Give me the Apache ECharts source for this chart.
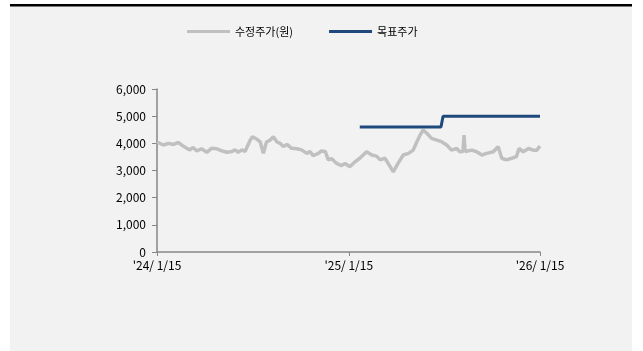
<!DOCTYPE html>
<html>
<head>
<meta charset="utf-8">
<script src="https://cdn.jsdelivr.net/npm/echarts@6/dist/echarts.min.js"></script>
<style>html,body{margin:0;padding:0;background:#fff}#c{width:643px;height:351px}</style>
</head>
<body>
<div id="c"></div>
<script>
// ---- data ----
var priceDates = [
'2024-01-15','2024-01-17','2024-01-27','2024-02-06','2024-02-15','2024-02-25','2024-03-02','2024-03-12','2024-03-18','2024-03-24',
'2024-03-31','2024-04-09','2024-04-19','2024-04-28','2024-05-08','2024-05-18','2024-05-27','2024-06-06','2024-06-12','2024-06-18',
'2024-06-25','2024-07-01','2024-07-11','2024-07-15','2024-07-23','2024-07-30','2024-08-05','2024-08-11','2024-08-18','2024-08-24',
'2024-08-31','2024-09-06','2024-09-12','2024-09-19','2024-09-28','2024-10-08','2024-10-17','2024-10-27','2024-11-02','2024-11-08',
'2024-11-18','2024-11-24','2024-12-01','2024-12-07','2024-12-13','2024-12-23','2025-01-01','2025-01-08','2025-01-17','2025-01-27',
'2025-02-05','2025-02-18','2025-02-28','2025-03-09','2025-03-16','2025-03-25','2025-04-04','2025-04-10','2025-04-19','2025-04-29',
'2025-05-09','2025-05-18','2025-05-25','2025-05-31','2025-06-06','2025-06-13','2025-06-22','2025-07-02','2025-07-11','2025-07-21',
'2025-07-30','2025-08-09','2025-08-15','2025-08-21','2025-08-23','2025-08-25','2025-08-28','2025-09-07','2025-09-16','2025-09-26',
'2025-10-05','2025-10-18','2025-10-27','2025-11-03','2025-11-12','2025-11-22','2025-12-01','2025-12-06','2025-12-14','2025-12-24',
'2026-01-02','2026-01-09','2026-01-15'
];
var priceValues = [
4050,4000,3940,4000,3960,4030,3940,3815,3760,3850,
3720,3800,3670,3815,3800,3720,3670,3700,3760,3670,
3760,3700,4120,4240,4160,4050,3630,4050,4120,4240,
4050,4000,3880,3960,3815,3800,3760,3630,3700,3550,
3630,3720,3700,3390,3440,3260,3180,3260,3140,3320,
3450,3690,3570,3530,3390,3450,3140,2950,3260,3570,
3630,3750,4060,4300,4490,4370,4180,4120,4060,3940,
3750,3810,3690,3700,4300,3700,3690,3750,3690,3570,
3630,3690,3880,3450,3390,3450,3510,3810,3690,3810,
3750,3750,3900
];
var targetDates = ['2025-02-05','2025-07-10','2025-07-14','2026-01-15'];
var targetValues = [4600,4600,5000,5000];

var xTickDates = ['2024-01-15','2025-01-15','2026-01-15'];
var xTickLabels = ["'24/ 1/15","'25/ 1/15","'26/ 1/15"];
var seriesNames = ['수정주가(원)','목표주가'];

// ---- chart ----
var DAY = 86400000;
function ts(s){var p=s.split('-');return Date.UTC(+p[0],+p[1]-1,+p[2]);}
var t0 = ts(xTickDates[0]);
function dayOf(s){return Math.round((ts(s)-t0)/DAY);}
var xTickDays = xTickDates.map(dayOf);
var FONT = "'Noto Sans CJK KR', sans-serif";

var chart = echarts.init(document.getElementById('c'), null, {renderer:'canvas'});
chart.setOption({
  animation:false,
  backgroundColor:'#ffffff',
  graphic:[
    {type:'rect', silent:true, z:-10, shape:{x:10,y:6,width:622,height:345}, style:{fill:'#f2f2f2'}},
    {type:'rect', silent:true, z:-9, shape:{x:10,y:4,width:622,height:2.5}, style:{fill:'#000000'}}
  ],
  legend:{
    left:187, top:26, padding:0,
    icon:'rect', itemWidth:43, itemHeight:3, itemGap:36,
    textStyle:{fontFamily:FONT, fontSize:11, color:'#000'},
    data:seriesNames
  },
  grid:{left:157, right:103, top:89, bottom:99},
  xAxis:{
    type:'value',
    min:xTickDays[0], max:xTickDays[xTickDays.length-1],
    axisLine:{show:true, lineStyle:{color:'#868686', width:1.5}},
    axisTick:{show:true, length:4, lineStyle:{color:'#868686', width:1}, customValues:xTickDays},
    axisLabel:{
      customValues:xTickDays, fontFamily:FONT, fontSize:12, color:'#000', margin:7,
      formatter:function(v){var i=xTickDays.indexOf(Math.round(v));return i>=0?xTickLabels[i]:'';}
    },
    splitLine:{show:false}
  },
  yAxis:{
    type:'value', min:0, max:6000, interval:1000,
    axisLine:{show:true, lineStyle:{color:'#868686', width:1.5}},
    axisTick:{show:true, length:5, lineStyle:{color:'#868686', width:1}},
    axisLabel:{fontFamily:FONT, fontSize:12, color:'#000', margin:11,
      formatter:function(v){return v.toLocaleString('en-US');}},
    splitLine:{show:false}
  },
  series:[
    {name:seriesNames[0], type:'line', showSymbol:false, symbol:'none',
     itemStyle:{color:'#c0c0c0'}, lineStyle:{color:'#c0c0c0', width:3.5},
     data:priceDates.map(function(d,i){return [dayOf(d), priceValues[i]];})},
    {name:seriesNames[1], type:'line', showSymbol:false, symbol:'none',
     itemStyle:{color:'#1f497d'}, lineStyle:{color:'#1f497d', width:3},
     data:targetDates.map(function(d,i){return [dayOf(d), targetValues[i]];})}
  ]
});
</script>
</body>
</html>
